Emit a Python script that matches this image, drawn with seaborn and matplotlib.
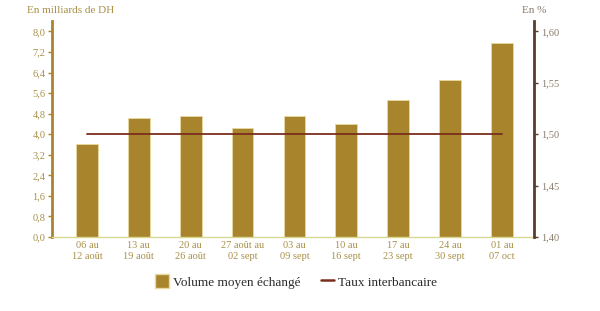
import matplotlib
matplotlib.use("Agg")
import matplotlib.pyplot as plt
import seaborn as sns
import pandas as pd
from matplotlib.patches import Patch
from matplotlib.lines import Line2D

categories = ["06 au\n12 août", "13 au\n19 août", "20 au\n26 août", "27 août au\n02 sept",
              "03 au\n09 sept", "10 au\n16 sept", "17 au\n23 sept", "24 au\n30 sept", "01 au\n07 oct"]
volume = [3.6, 4.65, 4.7, 4.25, 4.7, 4.4, 5.35, 6.1, 7.55]
taux = [1.50, 1.50, 1.50, 1.50, 1.50, 1.50, 1.50, 1.50, 1.50]
left_ticks = [0.0, 0.8, 1.6, 2.4, 3.2, 4.0, 4.8, 5.6, 6.4, 7.2, 8.0]
right_ticks = [1.40, 1.45, 1.50, 1.55, 1.60]

sns.set_style("white")
plt.rcParams['font.family'] = ['Liberation Serif', 'DejaVu Serif']

bar_col = "#a8842c"
gold_txt = "#a89048"
axis_gold = "#a8842c"
brown = "#5a3c2c"
line_col = "#7a2e1e"

df = pd.DataFrame({"cat": categories, "vol": volume, "taux": taux})

fig = plt.figure(figsize=(6, 3.11), dpi=100)
ax = fig.add_axes([0.087, 0.238, 0.803, 0.694])
sns.barplot(data=df, x="cat", y="vol", ax=ax, color=bar_col, width=0.42, saturation=1,
            edgecolor="#e8d9a0", linewidth=0.6)
ax.set_xlim(-0.67, 8.62)
ax.set_ylim(0, 8.4)
ax.set_yticks(left_ticks)
ax.set_yticklabels([f"{v:.1f}".replace(".", ",") for v in left_ticks])
ax.set_xlabel("")
ax.set_ylabel("")
for s in ["top", "right"]:
    ax.spines[s].set_visible(False)
ax.spines["left"].set_color(axis_gold)
ax.spines["left"].set_linewidth(2)
ax.spines["bottom"].set_color("#d8d890")
ax.spines["bottom"].set_linewidth(1)
ax.tick_params(axis="y", colors=axis_gold, labelcolor=gold_txt, labelsize=7.5, length=3, width=1, left=True, pad=2)
ax.tick_params(axis="x", labelcolor=gold_txt, labelsize=7.5, length=0, pad=3)

ax2 = ax.twinx()
sns.lineplot(x=list(range(len(categories))), y=taux, ax=ax2, color=line_col, linewidth=1.3)
ax2.set_ylim(1.40, 1.61)
ax2.set_yticks(right_ticks)
ax2.set_yticklabels([f"{v:.2f}".replace(".", ",") for v in right_ticks])
for s in ["top", "left", "bottom"]:
    ax2.spines[s].set_visible(False)
ax2.spines["right"].set_color(brown)
ax2.spines["right"].set_linewidth(2)
ax2.tick_params(axis="y", colors=brown, labelcolor="#8a7a6a", labelsize=7.5, length=3, width=1, right=True, pad=2)
ax2.set_ylabel("")

fig.text(0.045, 0.965, "En milliards de DH", color=gold_txt, fontsize=8, ha="left", va="center")
fig.text(0.87, 0.965, "En %", color="#8a7a6a", fontsize=8, ha="left", va="center")

handles = [Patch(facecolor=bar_col, edgecolor="#e8d9a0"), Line2D([0], [0], color=line_col, lw=1.8)]
fig.legend(handles, ["Volume moyen échangé", "Taux interbancaire"], loc="center",
           bbox_to_anchor=(0.494, 0.095), ncol=2, frameon=False, fontsize=9.5,
           labelcolor="#2a2a2a", handlelength=1.0, handleheight=1.2,
           columnspacing=1.6, handletextpad=0.3)

fig.savefig("out.png", dpi=100)
